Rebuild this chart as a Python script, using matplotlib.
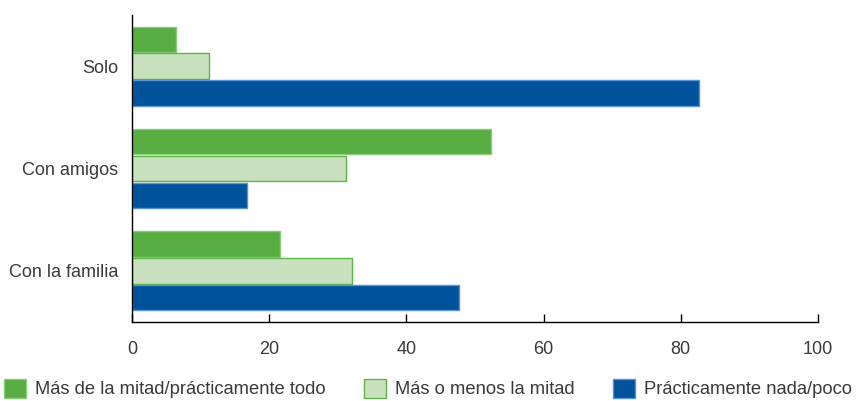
import numpy as np
import matplotlib.pyplot as plt

plt.rcParams['font.family'] = ['Liberation Sans', 'DejaVu Sans']

# Datos
categorias = ['Solo', 'Con amigos', 'Con la familia']
series = ['Más de la mitad/prácticamente todo', 'Más o menos la mitad', 'Prácticamente nada/poco']
mas_mitad = [6.4, 52.3, 21.6]
media = [11.3, 31.2, 32.0]
nada_poco = [82.6, 16.8, 47.6]

colores = ['#58ad42', '#c9e0bf', '#00529b']
bordes = ['#8ccb7c', '#5eb34a', '#5b92cf']
texto = '#3a3a3a'

fig = plt.figure(figsize=(8.57, 4.01), dpi=100)
ax = fig.add_axes([0.154, 0.197, 0.8005, 0.7656])

y = np.arange(len(categorias))
alto = 0.25
desp = 0.262
for k, (vals, c, b, nombre) in enumerate(zip([mas_mitad, media, nada_poco], colores, bordes, series)):
    ax.barh(y + (k - 1) * desp, vals, height=alto, color=c, edgecolor=b,
            linewidth=1.0, label=nombre)

ax.set_ylim(2.5, -0.5)
ax.set_xlim(0, 100)
ax.set_yticks(y)
ax.set_yticklabels(categorias)
ax.set_xticks([0, 20, 40, 60, 80, 100])

for lado in ['top', 'right']:
    ax.spines[lado].set_visible(False)
ax.spines['left'].set_linewidth(1.0)
ax.spines['bottom'].set_linewidth(1.0)
ax.tick_params(axis='y', length=0, pad=10, labelsize=13.0, labelcolor=texto)
ax.tick_params(axis='x', direction='in', length=6, width=1.0, pad=14,
               labelsize=13.0, labelcolor=texto)

ax.legend(loc='upper left', bbox_to_anchor=(-0.187, -0.185), ncol=3, frameon=False,
          fontsize=13.2, labelcolor=texto, handlelength=1.2, handleheight=1.2,
          handletextpad=0.5, columnspacing=2.1, borderaxespad=0, borderpad=0)

fig.savefig('out.png', dpi=100)
